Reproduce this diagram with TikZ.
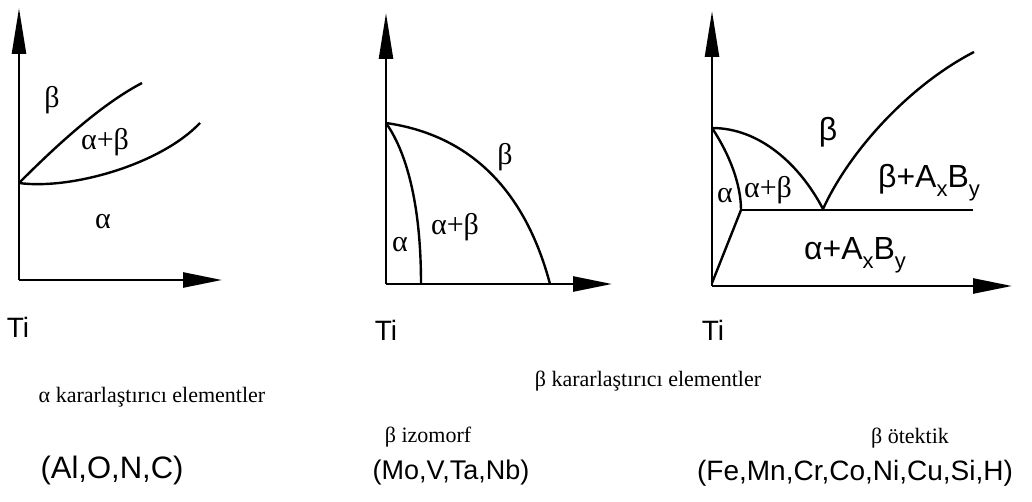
\documentclass[tikz,border=0pt]{standalone}
\usepackage{fontspec}
\setmainfont{Liberation Serif}
\newfontfamily\arial{Liberation Sans}
\usetikzlibrary{arrows.meta}
\newcommand{\lsub}[1]{\raisebox{-0.28em}{\fontsize{22}{22}\selectfont #1}}
\tikzset{
  axis/.style={line width=2.5pt, -{Triangle[length=46pt,width=14pt]}},
  haxis/.style={line width=2.5pt, -{Triangle[length=39pt,width=15pt]}},
  curve/.style={line width=2.4pt},
  phs/.style={font=\fontsize{30}{30}\selectfont, inner sep=0pt},
  phsans/.style={font=\arial\fontsize{32}{32}\selectfont, inner sep=0pt},
  ti/.style={font=\arial\fontsize{28}{28}\selectfont, inner sep=0pt},
  captxt/.style={font=\fontsize{22}{22}\selectfont, inner sep=0pt},
  elems/.style={font=\arial\fontsize{28}{28}\selectfont, inner sep=0pt}
}
\begin{document}
\begin{tikzpicture}[x=1pt,y=-1pt]
\useasboundingbox (0,0) rectangle (1032,502);
% ---------- panel 1 ----------
\coordinate (o1) at (19,280);
\coordinate (y1) at (19,8);
\coordinate (x1) at (222,280);
\coordinate (p1) at (19,183);
\coordinate (u1) at (142,83);
\coordinate (l1) at (200,123);
\draw[axis] (o1) -- (y1);
\draw[haxis] (o1) -- (x1);
\draw[curve] (p1) .. controls (55,147) and (100,105) .. (u1);
\draw[curve] (p1) .. controls (70,190) and (160,165) .. (l1);
\node[phs] (b1) at (52,100) {β};
\node[phs] (ab1) at (105,142) {α+β};
\node[phs] (a1) at (103,222) {α};
\node[ti] (ti1) at (18,327) {Ti};
% ---------- panel 2 ----------
\coordinate (o2) at (386,284);
\coordinate (y2) at (386,13);
\coordinate (x2) at (612,284);
\coordinate (p2) at (386,123);
\coordinate (e2) at (550,284);
\coordinate (i2) at (421,284);
\draw[axis] (o2) -- (y2);
\draw[haxis] (o2) -- (x2);
\draw[curve] (p2) .. controls (470,135) and (525,190) .. (e2);
\draw[curve] (p2) .. controls (405,150) and (421,200) .. (i2);
\node[phs] (b2) at (505,157) {β};
\node[phs] (ab2) at (455,227) {α+β};
\node[phs] (a2) at (400,245) {α};
\node[ti] (ti2) at (386,330) {Ti};
% ---------- panel 3 ----------
\coordinate (o3) at (712,286);
\coordinate (y3) at (712,11);
\coordinate (x3) at (1012,286);
\coordinate (p3) at (712,128);
\coordinate (eu) at (823,209);
\coordinate (r3) at (974,52);
\coordinate (q3) at (741,210);
\coordinate (h3) at (973,210);
\coordinate (z3) at (712,283);
\draw[axis] (o3) -- (y3);
\draw[haxis] (o3) -- (x3);
\draw[curve] (p3) .. controls (760,128) and (800,165) .. (eu);
\draw[curve] (eu) .. controls (850,150) and (910,85) .. (r3);
\draw[curve] (q3) -- (h3);
\draw[curve] (p3) .. controls (730,155) and (741,185) .. (q3);
\draw[curve] (q3) -- (z3);
\node[phsans] (b3) at (828,132) {β};
\node[phs] (ab3) at (768,190) {α+β};
\node[phs] (a3) at (725,196) {α};
\node[phsans] (bab) at (929,183) {β+A\lsub{x}B\lsub{y}};
\node[phsans] (aab) at (855,255) {α+A\lsub{x}B\lsub{y}};
\node[ti] (ti3) at (713,330) {Ti};
% ---------- captions ----------
\node[captxt] (c1) at (152,397) {α kararlaştırıcı elementler};
\node[elems, font=\arial\fontsize{31}{31}\selectfont] (e1) at (112,470) {(Al,O,N,C)};
\node[captxt] (c2) at (648,381) {β kararlaştırıcı elementler};
\node[captxt] (c3) at (428,437) {β izomorf};
\node[elems, font=\arial\fontsize{27}{27}\selectfont] (e3) at (451,473) {(Mo,V,Ta,Nb)};
\node[captxt] (c4) at (910,438) {β ötektik};
\node[elems] (e4) at (855,473) {(Fe,Mn,Cr,Co,Ni,Cu,Si,H)};
\end{tikzpicture}
\end{document}
